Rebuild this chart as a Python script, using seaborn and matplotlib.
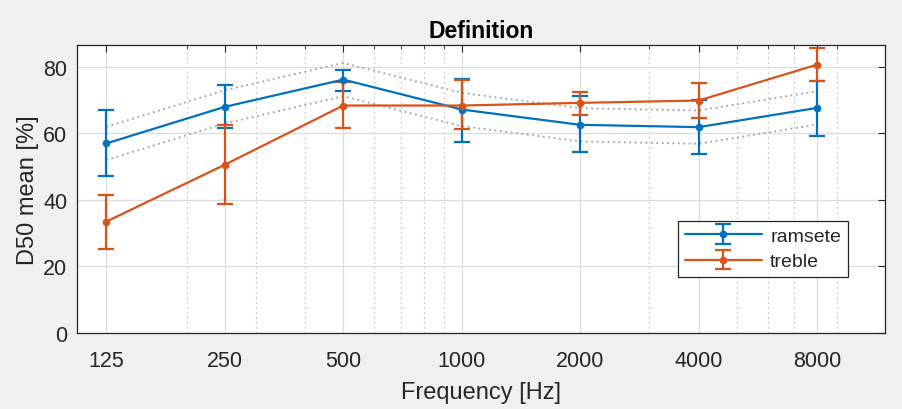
import matplotlib
matplotlib.use("Agg")
import matplotlib.pyplot as plt
import seaborn as sns
import pandas as pd
import numpy as np
from matplotlib.ticker import FixedLocator, NullFormatter, LogLocator

freqs = [125, 250, 500, 1000, 2000, 4000, 8000]
tick_labels = ["125", "250", "500", "1000", "2000", "4000", "8000"]

ramsete_mean = [57.0, 68.0, 76.2, 67.2, 62.6, 61.9, 67.7]
ramsete_lo = [47.1, 61.6, 72.9, 57.5, 54.3, 53.8, 59.2]
ramsete_hi = [67.1, 74.7, 79.1, 76.4, 71.2, 70.0, 75.8]

treble_mean = [33.5, 50.6, 68.4, 68.4, 69.2, 69.9, 80.7]
treble_lo = [25.3, 38.9, 61.6, 61.2, 65.6, 64.7, 75.8]
treble_hi = [41.6, 62.4, 75.4, 76.2, 72.4, 75.2, 85.6]

band_upper = [62.0, 73.0, 81.2, 72.2, 67.6, 66.9, 72.7]
band_lower = [52.0, 63.0, 71.2, 62.2, 57.6, 56.9, 62.7]

sns.set_theme(style="white")
plt.rcParams['font.family'] = ['Liberation Sans', 'DejaVu Sans']

blue = "#0072BD"
orange = "#D95319"
axcol = "#262626"

fig = plt.figure(figsize=(9.02, 4.10), dpi=100, facecolor="#f0f0f0")
ax = fig.add_axes([77/902, 76/410, 808/902, 288/410])
ax.set_facecolor("white")

ax.set_xscale("log")

bands = pd.DataFrame({"f": freqs * 2,
                      "v": band_upper + band_lower,
                      "which": ["upper"] * 7 + ["lower"] * 7})
for w in ["upper", "lower"]:
    sns.lineplot(data=bands[bands["which"] == w], x="f", y="v", ax=ax,
                 color="#a0a0a0", linestyle=(0, (1, 2)), linewidth=1.3,
                 legend=False, zorder=2)

def draw(mean, lo, hi, col, label):
    m = np.array(mean)
    yerr = [m - np.array(lo), np.array(hi) - m]
    ax.errorbar(freqs, m, yerr=yerr, fmt="-o", color=col, ecolor=col,
                markersize=4.5, linewidth=1.6, elinewidth=1.6, capsize=5.5,
                capthick=1.6, label=label, zorder=3)

draw(ramsete_mean, ramsete_lo, ramsete_hi, blue, "ramsete")
draw(treble_mean, treble_lo, treble_hi, orange, "treble")

ax.set_xlim(105.3, 11900)
ax.set_ylim(0, 86.6)
ax.xaxis.set_major_locator(FixedLocator(freqs))
ax.set_xticklabels(tick_labels)
ax.xaxis.set_minor_locator(LogLocator(base=10, subs=np.arange(2, 10), numticks=20))
ax.xaxis.set_minor_formatter(NullFormatter())
ax.set_yticks([0, 20, 40, 60, 80])

ax.grid(True, which="major", color="#dcdcdc", linewidth=0.9, linestyle="-", zorder=0)
ax.grid(True, which="minor", axis="x", color="#a8a8a8", linewidth=0.8,
        linestyle=(0, (1, 3.5)), zorder=0)
ax.set_axisbelow(True)

ax.tick_params(which="both", direction="in", top=True, right=True,
               colors=axcol, labelsize=15.5, labelcolor=axcol)
ax.tick_params(which="major", length=5, width=0.8)
ax.tick_params(axis="x", which="major", pad=12)
ax.tick_params(axis="y", which="major", pad=7)
ax.tick_params(which="minor", length=3, width=0.6)
for s in ax.spines.values():
    s.set_color(axcol)
    s.set_linewidth(0.9)

ax.set_xlabel("Frequency [Hz]", fontsize=17, color=axcol, labelpad=7.5)
ax.set_ylabel("D50 mean [%]", fontsize=17, color=axcol, labelpad=3)
ax.set_title("Definition", fontsize=16.5, fontweight="bold", color="black", pad=6)

leg = ax.legend(loc="lower right", bbox_to_anchor=(0.954, 0.194), fontsize=14,
                frameon=True, fancybox=False, edgecolor=axcol, framealpha=1,
                handlelength=4.0, borderpad=0.35, labelspacing=0.4,
                handletextpad=0.4, borderaxespad=0)
leg.get_frame().set_linewidth(0.9)

fig.savefig("out.png", dpi=100, facecolor=fig.get_facecolor())
